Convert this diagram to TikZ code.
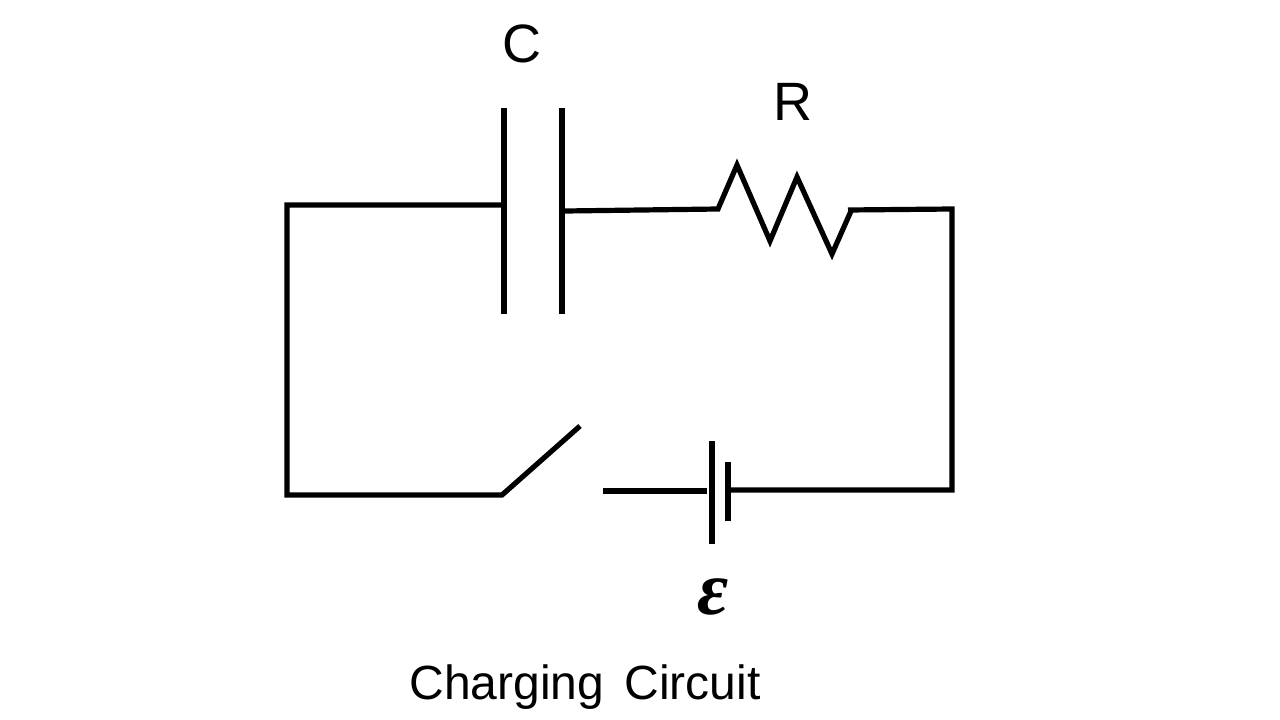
\documentclass[tikz,border=0pt]{standalone}
\usepackage{fontspec}
\setmainfont{Liberation Sans}
\newfontfamily\serifit{Liberation Serif}
\begin{document}
\begin{tikzpicture}[x=1pt,y=-1pt,wire/.style={line width=5.2pt,black,line cap=butt,line join=miter},
lab/.style={font=\fontsize{54}{54}\selectfont,inner sep=0pt,text=black},
caption/.style={font=\fontsize{48}{48}\selectfont,inner sep=0pt,text=black}]
\useasboundingbox[fill=white] (0,0) rectangle (1280,720);
\coordinate (tl) at (287,205);
\coordinate (bl) at (287,495);
\coordinate (tr) at (952,209);
\coordinate (br) at (952,490);
\coordinate (c1t) at (504,108); \coordinate (c1b) at (504,314); \coordinate (c1m) at (504,205);
\coordinate (c2t) at (562,108); \coordinate (c2b) at (562,314); \coordinate (c2m) at (565,211);
\coordinate (r0) at (718,209); \coordinate (r1) at (737,165); \coordinate (r2) at (770,241);
\coordinate (r3) at (797,177); \coordinate (r4) at (832,254); \coordinate (r5) at (851,211);
\coordinate (rend) at (848,210);
\coordinate (sa) at (502,495); \coordinate (sb) at (580,426);
\coordinate (sc) at (603,491);
\coordinate (b1t) at (712,441); \coordinate (b1b) at (712,544); \coordinate (b1m) at (707,491);
\coordinate (b2t) at (728,462); \coordinate (b2b) at (728,521); \coordinate (b2m) at (728,490);
\draw[wire] (c1m) -- (tl) -- (bl) -- (sa) -- (sb);
\draw[wire] (c1t) -- (c1b);
\draw[wire] (c2t) -- (c2b);
\draw[wire] (c2m) -- (r0) -- (r1) -- (r2) -- (r3) -- (r4) -- (r5);
\draw[wire] (rend) -- (tr) -- (br) -- (b2m);
\draw[wire] (b2t) -- (b2b);
\draw[wire] (b1t) -- (b1b);
\draw[wire] (sc) -- (b1m);
\node[lab] (C) at (522,44) {C};
\node[lab] (R) at (793,102) {R};
\node[inner sep=0pt,text=black] (E) at (713,597) {\serifit\fontsize{76}{76}\selectfont\bfseries\itshape ε};
\node[caption] (T) at (585,687) {Charging\hspace{7pt} Circuit};
\end{tikzpicture}
\end{document}
